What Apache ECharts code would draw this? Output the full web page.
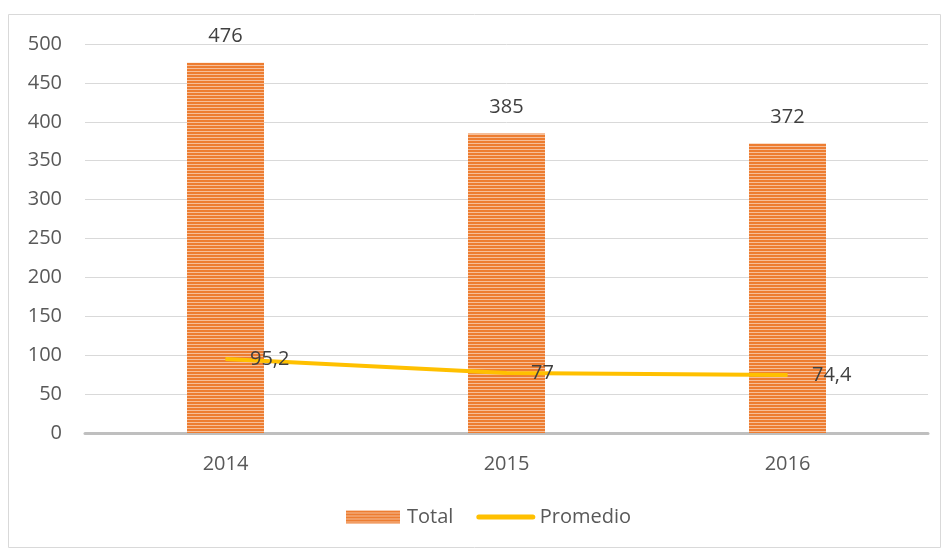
<!DOCTYPE html>
<html><head><meta charset="utf-8">
<script src="https://cdn.jsdelivr.net/npm/echarts@6/dist/echarts.min.js"></script>
<style>html,body{margin:0;padding:0;background:#fff}#c{width:943px;height:549px}</style>
</head><body><div id="c"></div>
<script>
const categories = ['2014', '2015', '2016'];
const totalValues = [476, 385, 372];
const promedioValues = [95.2, 77, 74.4];
const promedioLabels = ['95,2', '77', '74,4'];

const cv = document.createElement('canvas');
cv.width = 4; cv.height = 3;
const cx = cv.getContext('2d');
cx.fillStyle = '#F6BE98'; cx.fillRect(0, 0, 4, 3);
cx.fillStyle = '#ED7D31'; cx.fillRect(0, 0, 4, 2);
const stripe = { image: cv, repeat: 'repeat' };

const font = '"Open Sans", "Liberation Sans", sans-serif';
const chart = echarts.init(document.getElementById('c'));
chart.setOption({
  animation: false,
  textStyle: { fontFamily: font },
  graphic: [{ type: 'rect', shape: { x: 8.5, y: 14.5, width: 932, height: 533 }, style: { fill: 'none', stroke: '#d9d9d9', lineWidth: 1 }, silent: true }],
  grid: { left: 85, right: 15, top: 44, bottom: 116 },
  legend: {
    bottom: 17, left: 341, itemGap: 23, itemWidth: 54, itemHeight: 13,
    textStyle: { fontSize: 20, color: '#595959', fontFamily: font, padding: [0, 0, 0, 2] },
    data: [
      { name: 'Total', icon: 'rect' },
      { name: 'Promedio', itemStyle: { opacity: 0 }, lineStyle: { width: 5, cap: 'round' } }
    ]
  },
  xAxis: {
    type: 'category', data: categories,
    axisLine: { lineStyle: { color: '#bfbfbf', width: 3 } },
    axisTick: { show: false },
    axisLabel: { fontSize: 20, color: '#595959', margin: 21, fontFamily: font }
  },
  yAxis: {
    type: 'value', min: 0, max: 500, interval: 50,
    axisLine: { show: false }, axisTick: { show: false },
    splitLine: { lineStyle: { color: '#d9d9d9', width: 1 } },
    axisLabel: { fontSize: 20, color: '#595959', margin: 23, fontFamily: font }
  },
  series: [
    {
      name: 'Total', type: 'bar', data: totalValues, barWidth: 77,
      itemStyle: { color: stripe },
      label: { show: true, position: 'top', distance: 16, fontSize: 20, color: '#404040', fontFamily: font }
    },
    {
      name: 'Promedio', type: 'line', data: promedioValues, symbol: 'circle', symbolSize: 1, showSymbol: true,
      lineStyle: { color: '#FFC000', width: 4 }, itemStyle: { color: '#FFC000' },
      label: { show: true, position: 'right', distance: 24, fontSize: 20, color: '#404040', fontFamily: font,
        formatter: p => promedioLabels[p.dataIndex] }
    }
  ]
});
</script></body></html>
